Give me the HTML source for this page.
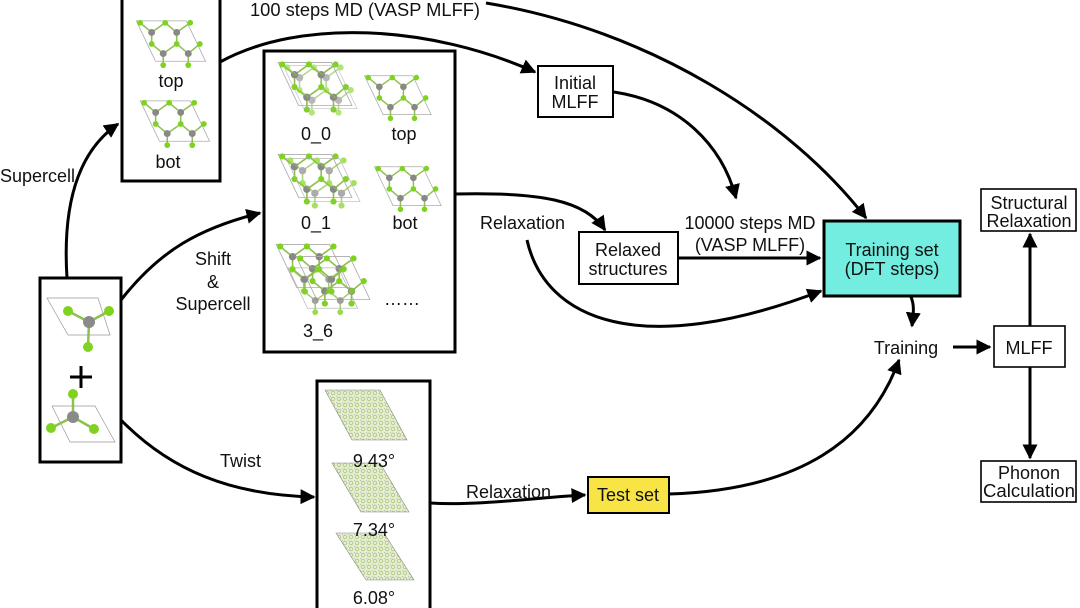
<!DOCTYPE html>
<html><head><meta charset="utf-8"><style>
html,body{margin:0;padding:0;background:#fff}
svg{display:block}
text{font-family:"Liberation Sans",sans-serif;fill:#111}
</style></head><body>
<svg width="1080" height="608" viewBox="0 0 1080 608" xmlns="http://www.w3.org/2000/svg">
<defs>
<marker id="ah" viewBox="0 0 10 10" refX="9" refY="5" markerWidth="5" markerHeight="5" orient="auto-start-reverse" markerUnits="strokeWidth">
<path d="M0,0 L10,5 L0,10 z" fill="#000"/></marker>
<symbol id="mol" viewBox="0 0 80 54">
<polygon points="6,4 58,4 78,46 26,46" fill="none" stroke="#aaa" stroke-width="0.8"/>
<g stroke="#8fbf50" stroke-width="1.6">
<line x1="10" y1="6" x2="22" y2="16"/><line x1="36" y1="6" x2="22" y2="16"/><line x1="36" y1="6" x2="48" y2="16"/><line x1="62" y1="6" x2="48" y2="16"/>
<line x1="22" y1="16" x2="22" y2="28"/><line x1="48" y1="16" x2="48" y2="28"/>
<line x1="22" y1="28" x2="34" y2="38"/><line x1="48" y1="28" x2="34" y2="38"/><line x1="48" y1="28" x2="60" y2="38"/><line x1="72" y1="28" x2="60" y2="38"/>
<line x1="34" y1="38" x2="34" y2="50"/><line x1="60" y1="38" x2="60" y2="50"/>
</g>
<g fill="#888"><circle cx="22" cy="16" r="3.6"/><circle cx="48" cy="16" r="3.6"/><circle cx="34" cy="38" r="3.6"/><circle cx="60" cy="38" r="3.6"/></g>
<g fill="#7fd320"><circle cx="10" cy="6" r="3"/><circle cx="36" cy="6" r="3"/><circle cx="62" cy="6" r="3"/><circle cx="22" cy="28" r="3"/><circle cx="48" cy="28" r="3"/><circle cx="72" cy="28" r="3"/><circle cx="34" cy="50" r="3"/><circle cx="60" cy="50" r="3"/></g>
</symbol>
<pattern id="tw" width="6" height="6" patternUnits="userSpaceOnUse">
<rect width="6" height="6" fill="#e6efd2"/><circle cx="3" cy="3" r="1.8" fill="none" stroke="#a9c57a" stroke-width="0.8"/><circle cx="0" cy="0" r="0.9" fill="#999"/>
</pattern>
</defs>

<g fill="none" stroke="#000" stroke-width="3">
<rect x="122" y="-2" width="98" height="183"/>
<rect x="264" y="51" width="191" height="301"/>
<rect x="40" y="278" width="81" height="184"/>
<rect x="317" y="381" width="113" height="230"/>
</g>
<g stroke="#000" stroke-width="2">
<rect x="538" y="66" width="75" height="51" fill="#fff"/>
<rect x="579" y="232" width="99" height="52" fill="#fff"/>
<rect x="588" y="477" width="81" height="36" fill="#f8e444"/>
</g>
<rect x="824" y="221" width="136" height="75" fill="#72ede0" stroke="#000" stroke-width="3"/>
<g stroke="#000" stroke-width="1.6" fill="#fff">
<rect x="981" y="189" width="95" height="42"/>
<rect x="994" y="326" width="71" height="41"/>
<rect x="981" y="461" width="95" height="41"/>
</g>

<use href="#mol" x="130" y="17" width="78" height="52"/>
<use href="#mol" x="134" y="97" width="78" height="52"/>
<use href="#mol" x="272" y="58" width="82" height="56"/>
<use href="#mol" x="277" y="61" width="82" height="56" opacity="0.6"/>
<use href="#mol" x="358" y="72" width="76" height="50"/>
<use href="#mol" x="272" y="150" width="82" height="56"/>
<use href="#mol" x="280" y="154" width="82" height="56" opacity="0.7"/>
<use href="#mol" x="368" y="163" width="76" height="50"/>
<use href="#mol" x="270" y="240" width="82" height="56"/>
<use href="#mol" x="290" y="252" width="82" height="56"/>
<use href="#mol" x="280" y="264" width="82" height="52" opacity="0.8"/>

<polygon points="325,390 380,390 407,440 352,440" fill="url(#tw)" stroke="#888" stroke-width="0.6"/>
<polygon points="332,463 380,463 409,512 361,512" fill="url(#tw)" stroke="#888" stroke-width="0.6"/>
<polygon points="336,533 384,533 414,580 366,580" fill="url(#tw)" stroke="#888" stroke-width="0.6"/>

<g stroke="#999" stroke-width="0.7" fill="none">
<polygon points="47,298 98,298 110,335 68,335"/>
<polygon points="52,406 95,406 115,442 70,442"/>
</g>
<g stroke="#8fbf50" stroke-width="2.5">
<line x1="89" y1="322" x2="68" y2="311"/><line x1="89" y1="322" x2="109" y2="311"/><line x1="89" y1="322" x2="88" y2="347"/>
<line x1="73" y1="417" x2="73" y2="394"/><line x1="73" y1="417" x2="51" y2="428"/><line x1="73" y1="417" x2="94" y2="429"/>
</g>
<g fill="#7fd320"><circle cx="68" cy="311" r="5"/><circle cx="109" cy="311" r="5"/><circle cx="88" cy="347" r="5"/><circle cx="73" cy="394" r="5"/><circle cx="51" cy="428" r="5"/><circle cx="94" cy="429" r="5"/></g>
<g fill="#8a8a8a"><circle cx="89" cy="322" r="6"/><circle cx="73" cy="417" r="6"/></g>
<path d="M70,377 H92 M81,366 V388" stroke="#000" stroke-width="3"/>

<g fill="none" stroke="#000" stroke-width="3">
<path d="M67,278 C62,200 80,150 118,124" marker-end="url(#ah)"/>
<path d="M121,300 C160,250 200,228 260,213" marker-end="url(#ah)"/>
<path d="M121,420 C170,470 230,495 314,497" marker-end="url(#ah)"/>
<path d="M220,62 C300,18 430,25 535,72" marker-end="url(#ah)"/>
<path d="M486,3 C650,30 790,120 866,218" marker-end="url(#ah)"/>
<path d="M614,92 C680,102 722,145 736,198" marker-end="url(#ah)"/>
<path d="M455,194 C540,192 585,200 605,230" marker-end="url(#ah)"/>
<path d="M527,240 C545,320 640,360 821,291" marker-end="url(#ah)"/>
<path d="M678,258 H820" marker-end="url(#ah)"/>
<path d="M911,297 C915,306 913,316 912,326" marker-end="url(#ah)"/>
<path d="M430,503 C480,506 540,497 585,495" marker-end="url(#ah)"/>
<path d="M669,494 C800,490 870,440 899,360" marker-end="url(#ah)"/>
<path d="M953,347 H990" marker-end="url(#ah)"/>
<path d="M1030,326 V234" marker-end="url(#ah)"/>
<path d="M1030,367 V458" marker-end="url(#ah)"/>
</g>

<g font-size="18">
<text x="250" y="16" textLength="230" lengthAdjust="spacingAndGlyphs">100 steps MD (VASP MLFF)</text>
<text x="0" y="182">Supercell</text>
<text x="213" y="265" text-anchor="middle">Shift</text>
<text x="213" y="288" text-anchor="middle">&amp;</text>
<text x="213" y="310" text-anchor="middle">Supercell</text>
<text x="220" y="467">Twist</text>
<text x="480" y="229">Relaxation</text>
<text x="466" y="498">Relaxation</text>
<text x="750" y="229" text-anchor="middle">10000 steps MD</text>
<text x="750" y="251" text-anchor="middle">(VASP MLFF)</text>
<text x="906" y="354" text-anchor="middle">Training</text>
<text x="171" y="87" text-anchor="middle">top</text>
<text x="168" y="168" text-anchor="middle">bot</text>
<text x="316" y="140" text-anchor="middle">0_0</text>
<text x="404" y="140" text-anchor="middle">top</text>
<text x="316" y="229" text-anchor="middle">0_1</text>
<text x="405" y="229" text-anchor="middle">bot</text>
<text x="318" y="337" text-anchor="middle">3_6</text>
<text x="402" y="305" text-anchor="middle">……</text>
<text x="374" y="467" text-anchor="middle">9.43°</text>
<text x="374" y="536" text-anchor="middle">7.34°</text>
<text x="374" y="604" text-anchor="middle">6.08°</text>
<text x="575" y="89" text-anchor="middle">Initial</text>
<text x="575" y="108" text-anchor="middle">MLFF</text>
<text x="628" y="256" text-anchor="middle">Relaxed</text>
<text x="628" y="275" text-anchor="middle">structures</text>
<text x="628" y="501" text-anchor="middle">Test set</text>
<text x="892" y="256" text-anchor="middle">Training set</text>
<text x="892" y="275" text-anchor="middle">(DFT steps)</text>
<text x="1029" y="209" text-anchor="middle">Structural</text>
<text x="1029" y="227" text-anchor="middle">Relaxation</text>
<text x="1029" y="354" text-anchor="middle">MLFF</text>
<text x="1029" y="479" text-anchor="middle">Phonon</text>
<text x="1029" y="497" text-anchor="middle" textLength="92" lengthAdjust="spacingAndGlyphs">Calculation</text>
</g>
</svg>
</body></html>
